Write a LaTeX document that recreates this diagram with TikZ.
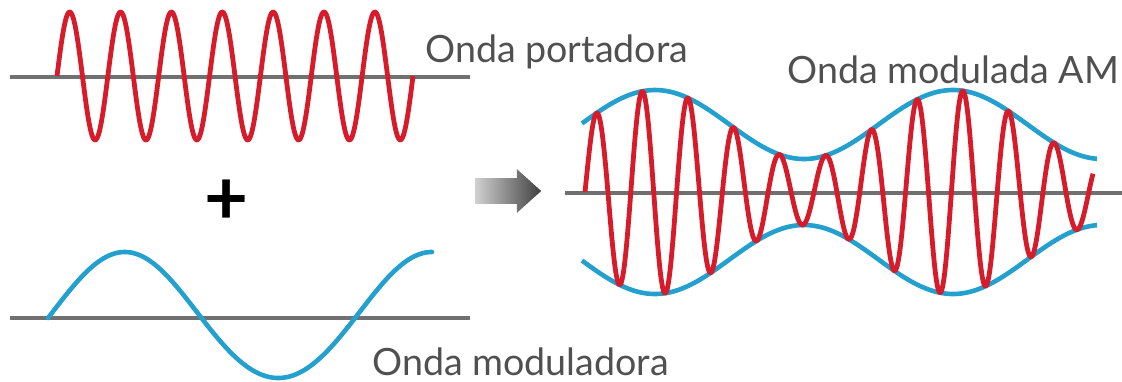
\documentclass[tikz,border=0pt]{standalone}
\usepackage{fontspec}
\setmainfont{Lato}
\usepackage{tikz}
\usetikzlibrary{shapes.arrows,positioning}
\definecolor{wavered}{RGB}{214,28,42}
\definecolor{waveblue}{RGB}{35,160,205}
\definecolor{axisgray}{RGB}{112,112,112}
\definecolor{textgray}{RGB}{80,80,80}
\tikzset{%
  % curves
  carrier/.style={draw=wavered, line width=2.4pt, line join=round},
  modulating/.style={draw=waveblue, line width=2.3pt, line cap=round},
  envelope/.style={draw=waveblue, line width=2.3pt},
  axisline/.style={draw=axisgray, line width=2pt},
  % texts
  wavelabel/.style={font=\fontsize{18.8}{20}\selectfont, text=textgray, inner sep=0pt, anchor=base west},
  plussign/.style={font=\fontsize{38}{38}\selectfont\bfseries, inner sep=0pt},
  % arrow
  bigarrow/.style={single arrow, minimum height=33pt, inner xsep=0pt, inner ysep=6.25pt,
    single arrow head extend=4.5pt, single arrow tip angle=84,
    left color=black!18, right color=black!75, draw=none},
}
% envelope amplitude, degrees per px = 360/298
\newcommand{\amp}[1]{(67.5+34.5*cos((#1-655)*1.2081))}

\begin{document}
\begin{tikzpicture}[x=0.5pt, y=-0.5pt]
  \useasboundingbox (0,0) rectangle (1122,381);

  % carrier wave
  \draw[axisline] (10,77) -- (470,77);
  \draw[carrier] plot[domain=57:413, samples=400]
    (\x, {76-64*sin((\x-57)*7.0783)});
  \node[wavelabel] (portadora) at (425,62.7) {Onda portadora};

  \node[plussign] (plus) at (227,202) {+};

  % modulating wave
  \draw[axisline] (10,318) -- (470,318);
  \draw[modulating] plot[domain=48:432, samples=200]
    (\x, {318-63*sin((\x-48)*1.1726)-3*sin((\x-48)*1.1726)^2});
  \node[wavelabel] (moduladora) at (372,375) {Onda moduladora};

  \node[bigarrow] (arrow) at (501,191) {};

  % modulated wave
  \draw[axisline] (565,193) -- (1122,193);
  \draw[envelope] plot[domain=582:1097, samples=150] (\x, {192-\amp{\x}});
  \draw[envelope] plot[domain=582:1097, samples=150] (\x, {192+\amp{\x}});
  \draw[carrier] plot[domain=585:1093, samples=700]
    (\x, {192-\amp{\x}*sin((\x-585)*7.8603)});
  \node[wavelabel] (modulada) at (787,83) {Onda modulada AM};
\end{tikzpicture}
\end{document}
